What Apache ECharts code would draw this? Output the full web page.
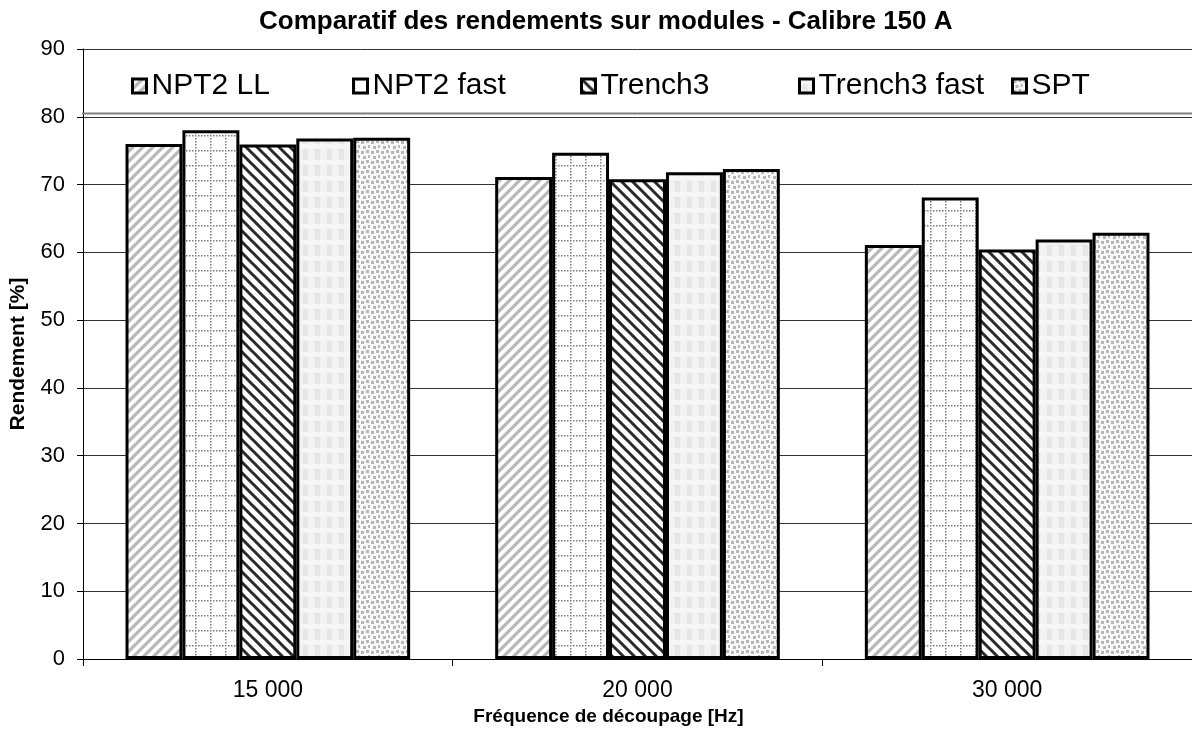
<!DOCTYPE html>
<html>
<head>
<meta charset="utf-8">
<script src="https://cdn.jsdelivr.net/npm/echarts@6/dist/echarts.min.js"></script>
<style>
  html, body { margin: 0; padding: 0; background: #fff; }
  #chart { width: 1192px; height: 731px; }
</style>
</head>
<body>
<div id="chart"></div>
<script>
const categories = ['15 000', '20 000', '30 000'];
const seriesNames = ['NPT2 LL', 'NPT2 fast', 'Trench3', 'Trench3 fast', 'SPT'];
const npt2LL = [76.0, 71.1, 61.1];
const npt2Fast = [78.0, 74.7, 68.1];
const trench3 = [75.9, 70.8, 60.4];
const trench3Fast = [76.8, 71.8, 61.9];
const spt = [76.9, 72.3, 62.9];
const yTicks = [0, 10, 20, 30, 40, 50, 60, 70, 80, 90];

const FONT = '"Liberation Sans", Arial, sans-serif';
const legendLefts = [131, 352, 580, 798, 1011];

function makePattern(w, h, draw) {
  const c = document.createElement('canvas');
  c.width = w;
  c.height = h;
  const ctx = c.getContext('2d');
  ctx.fillStyle = '#fff';
  ctx.fillRect(0, 0, w, h);
  draw(ctx, w, h);
  return { image: c, repeat: 'repeat' };
}

// light "/" stripes
const patLL = makePattern(10, 10, (ctx, w, h) => {
  ctx.strokeStyle = '#b8b8b8';
  ctx.lineWidth = 3.2;
  ctx.beginPath();
  ctx.moveTo(-5, h + 5); ctx.lineTo(w + 5, -5);
  ctx.moveTo(-5, 5); ctx.lineTo(5, -5);
  ctx.moveTo(w - 5, h + 5); ctx.lineTo(w + 5, h - 5);
  ctx.stroke();
});

// dotted grid
const patFast = makePattern(15, 15, (ctx, w, h) => {
  ctx.fillStyle = '#7a7a7a';
  for (let i = 0; i < w; i += 3) ctx.fillRect(i, 0, 1.5, 1.5);
  for (let j = 3; j < h; j += 3) ctx.fillRect(0, j, 1.5, 1.5);
});

// dark "\" stripes
const patTrench = makePattern(11, 11, (ctx, w, h) => {
  ctx.strokeStyle = '#2a2a2a';
  ctx.lineWidth = 3;
  ctx.beginPath();
  ctx.moveTo(-5, -5); ctx.lineTo(w + 5, h + 5);
  ctx.moveTo(-5, h - 5); ctx.lineTo(5, h + 5);
  ctx.moveTo(w - 5, -5); ctx.lineTo(w + 5, 5);
  ctx.stroke();
});

// light plaid
const patTrenchFast = makePattern(12, 16, (ctx, w, h) => {
  ctx.fillStyle = '#f2f2f2';
  ctx.fillRect(0, 0, w, h);
  ctx.fillStyle = '#e6e6e6';
  ctx.fillRect(3, 5, 5, 11);
  ctx.fillStyle = '#fafafa';
  for (let i = 0; i < w; i += 2) ctx.fillRect(i, 0, 1, 2);
  for (let i = 1; i < w; i += 2) ctx.fillRect(i, 2, 1, 2);
});

// grey speckles
const patSpt = makePattern(10, 10, (ctx) => {
  ctx.fillStyle = '#f8f8f8';
  ctx.fillRect(0, 0, 10, 10);
  ctx.fillStyle = '#b6b6b6';
  ctx.fillRect(1, 1, 3, 3);
  ctx.fillRect(6, 0, 3, 3);
  ctx.fillRect(3, 6, 3, 3);
  ctx.fillRect(8, 5, 2, 3);
});

const patterns = [patLL, patFast, patTrench, patTrenchFast, patSpt];
const seriesData = [npt2LL, npt2Fast, trench3, trench3Fast, spt];

const chart = echarts.init(document.getElementById('chart'), null, { renderer: 'canvas' });

chart.setOption({
  animation: false,
  textStyle: { fontFamily: FONT, color: '#000' },
  title: {
    text: 'Comparatif des rendements sur modules - Calibre 150 A',
    left: 254,
    top: 4,
    textStyle: { fontFamily: FONT, fontSize: 26, fontWeight: 'bold', color: '#000' }
  },
  grid: { left: 82, right: 0, top: 49, bottom: 72, containLabel: false },
  legend: seriesNames.map((name, i) => ({
    left: legendLefts[i],
    top: 70,
    padding: 0,
    itemWidth: 14,
    itemHeight: 14,
    icon: 'rect',
    textStyle: { fontFamily: FONT, fontSize: 30, color: '#000', lineHeight: 32 },
    itemStyle: { borderColor: '#000', borderWidth: 3 },
    data: [name]
  })),
  graphic: [
    {
      type: 'line',
      z: 10,
      shape: { x1: 82, y1: 113.5, x2: 1192, y2: 113.5 },
      style: { stroke: '#808080', lineWidth: 2 }
    }
  ],
  xAxis: {
    type: 'category',
    data: categories,
    axisLine: { lineStyle: { color: '#000', width: 1 } },
    axisTick: { show: true, length: 7, lineStyle: { color: '#000' } },
    axisLabel: { fontFamily: FONT, fontSize: 23, color: '#000', margin: 20 },
    name: 'Fréquence de découpage [Hz]',
    nameLocation: 'middle',
    nameGap: 47,
    nameTextStyle: { fontFamily: FONT, fontSize: 19, fontWeight: 'bold', color: '#000', padding: [0, 58, 0, 0] }
  },
  yAxis: {
    type: 'value',
    min: yTicks[0],
    max: yTicks[yTicks.length - 1],
    interval: 10,
    axisLine: { show: true, lineStyle: { color: '#000', width: 1 } },
    axisTick: { show: true, length: 6, lineStyle: { color: '#000' } },
    axisLabel: { fontFamily: FONT, fontSize: 22, color: '#000', margin: 18 },
    splitLine: { show: true, lineStyle: { color: '#333', width: 1 } },
    name: 'Rendement [%]',
    nameLocation: 'middle',
    nameGap: 54,
    nameTextStyle: { fontFamily: FONT, fontSize: 21, fontWeight: 'bold', color: '#000' }
  },
  series: seriesNames.map((name, i) => ({
    name: name,
    type: 'bar',
    data: seriesData[i],
    barGap: '0%',
    barCategoryGap: '23%',
    itemStyle: { color: patterns[i], borderColor: '#000', borderWidth: 3 }
  }))
});
</script>
</body>
</html>
